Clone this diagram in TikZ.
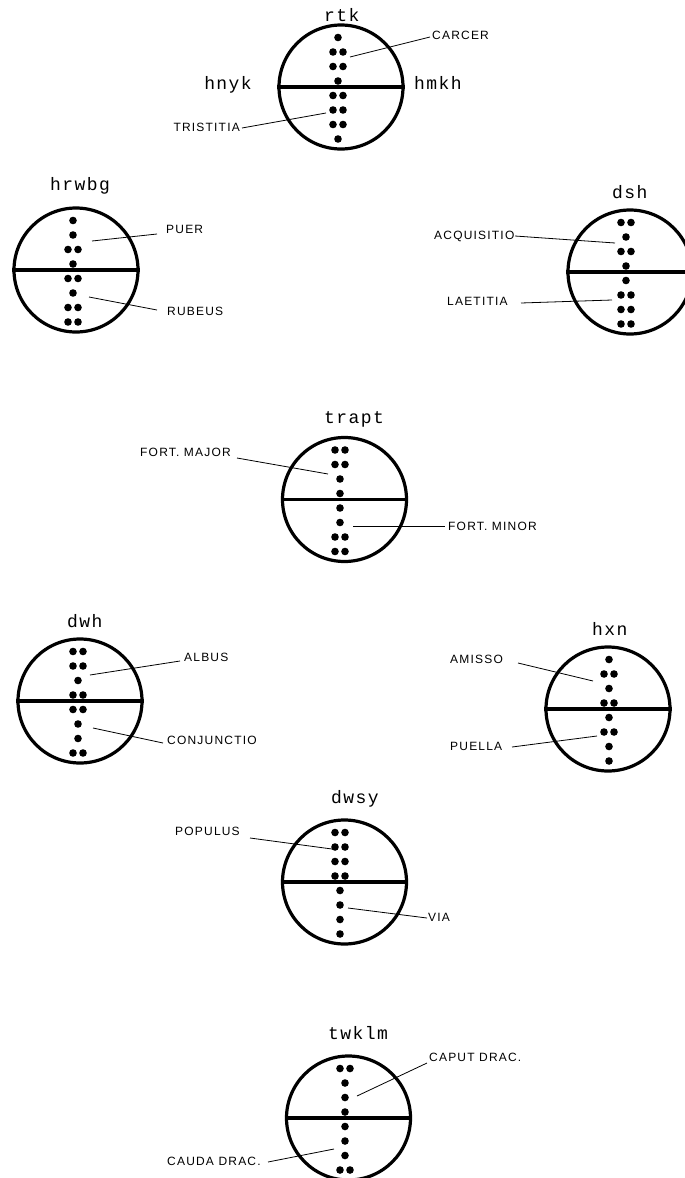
\documentclass[tikz,border=0pt]{standalone}
\usepackage{fontspec}
\newfontfamily\capsf[LetterSpace=10]{Liberation Sans}
\newfontfamily\hebf[LetterSpace=8]{Liberation Mono}
\tikzset{
  geocircle/.style={circle, draw, line width=3.2pt, minimum size=124pt, inner sep=0pt},
  divider/.style={line width=3.2pt},
  lead/.style={line width=0.8pt},
  caplabel/.style={inner sep=0pt, anchor=base west, font=\capsf\fontsize{12}{14}\selectfont},
  heblabel/.style={inner sep=0pt, anchor=base west, font=\hebf\fontsize{18}{20}\selectfont},
}
% one row of a geomantic figure: #1 column x, #2 row y, #3 number of dots
\newcommand\georow[3]{%
  \ifnum#3=1
    \fill (#1,#2) circle (3.8pt);
  \else
    \fill (#1-5,#2) circle (3.8pt);
    \fill (#1+5,#2) circle (3.8pt);
  \fi}
% #1 column x, #2 divider y, #3 upper figure rows, #4 lower figure rows
\newcommand\geofig[4]{%
  \foreach \n [count=\i] in {#3} {%
    \pgfmathsetmacro\yy{#2-49.5+(\i-1)*14.5}%
    \georow{#1}{\yy}{\n}}%
  \foreach \n [count=\i] in {#4} {%
    \pgfmathsetmacro\yy{#2+8.5+(\i-1)*14.5}%
    \georow{#1}{\yy}{\n}}}
\begin{document}
\begin{tikzpicture}[x=1pt,y=-1pt]
\useasboundingbox (0,0) rectangle (685,1178);
\clip (0,0) rectangle (685,1178);

% ---------- circle 1: rtk ----------
\node[geocircle] (c1) at (341,87) {};
\draw[divider] (c1.west) -- (c1.east);
\geofig{338}{87}{1,2,2,1}{2,2,2,1}
\node[heblabel] (rtk) at (324,21.7) {rtk};
\node[heblabel, anchor=base east] (hnyk) at (252,89) {hnyk};
\node[heblabel] (hmkh) at (414,89) {hmkh};
\node[caplabel] (carcer) at (432,39) {CARCER};
\node[caplabel, anchor=base east] (tristitia) at (240,131) {TRISTITIA};
\coordinate (carcer-in) at (350,57);
\coordinate (carcer-out) at (430,37);
\coordinate (tristitia-in) at (326,113);
\coordinate (tristitia-out) at (242,128);
\draw[lead] (carcer-in) -- (carcer-out);
\draw[lead] (tristitia-in) -- (tristitia-out);

% ---------- circle 2: hrwbg ----------
\node[geocircle] (c2) at (76,270) {};
\draw[divider] (c2.west) -- (c2.east);
\geofig{73}{270}{1,1,2,1}{2,1,2,2}
\node[heblabel] (hrwbg) at (50,190) {hrwbg};
\node[caplabel] (puer) at (166,233) {PUER};
\node[caplabel] (rubeus) at (167,315) {RUBEUS};
\coordinate (puer-in) at (92,241);
\coordinate (puer-out) at (157,234);
\coordinate (rubeus-in) at (89,297);
\coordinate (rubeus-out) at (157,310);
\draw[lead] (puer-in) -- (puer-out);
\draw[lead] (rubeus-in) -- (rubeus-out);

% ---------- circle 3: dsh ----------
\node[geocircle] (c3) at (630,272) {};
\draw[divider] (c3.west) -- (c3.east);
\geofig{626}{272}{2,1,2,1}{1,2,2,2}
\node[heblabel] (dsh) at (612,198) {dsh};
\node[caplabel] (acquisitio) at (434,239) {ACQUISITIO};
\node[caplabel] (laetitia) at (447,305) {LAETITIA};
\coordinate (acquisitio-in) at (615,243);
\coordinate (acquisitio-out) at (515,236);
\coordinate (laetitia-in) at (612,300);
\coordinate (laetitia-out) at (521,303);
\draw[lead] (acquisitio-in) -- (acquisitio-out);
\draw[lead] (laetitia-in) -- (laetitia-out);

% ---------- circle 4: trapt ----------
\node[geocircle] (c4) at (344.5,499.5) {};
\draw[divider] (c4.west) -- (c4.east);
\geofig{340}{499.5}{2,2,1,1}{1,1,2,2}
\node[heblabel] (trapt) at (324,423) {trapt};
\node[caplabel] (fmajor) at (140,456) {FORT. MAJOR};
\node[caplabel] (fminor) at (448,530) {FORT. MINOR};
\coordinate (fmajor-in) at (328,474);
\coordinate (fmajor-out) at (237,458);
\coordinate (fminor-in) at (353,526);
\coordinate (fminor-out) at (445,526);
\draw[lead] (fmajor-in) -- (fmajor-out);
\draw[lead] (fminor-in) -- (fminor-out);

% ---------- circle 5: dwh ----------
\node[geocircle] (c5) at (80,701) {};
\draw[divider] (c5.west) -- (c5.east);
\geofig{78}{701}{2,2,1,2}{2,1,1,2}
\node[heblabel] (dwh) at (67,627) {dwh};
\node[caplabel] (albus) at (184,661) {ALBUS};
\node[caplabel] (conjunctio) at (167,744) {CONJUNCTIO};
\coordinate (albus-in) at (90,675);
\coordinate (albus-out) at (180,661);
\coordinate (conjunctio-in) at (93,728);
\coordinate (conjunctio-out) at (163,743);
\draw[lead] (albus-in) -- (albus-out);
\draw[lead] (conjunctio-in) -- (conjunctio-out);

% ---------- circle 6: hxn ----------
\node[geocircle] (c6) at (608,709) {};
\draw[divider] (c6.west) -- (c6.east);
\geofig{609}{709}{1,2,1,2}{1,2,1,1}
\node[heblabel] (hxn) at (592,635) {hxn};
\node[caplabel] (amisso) at (450,663) {AMISSO};
\node[caplabel] (puella) at (450,750) {PUELLA};
\coordinate (amisso-in) at (593,681);
\coordinate (amisso-out) at (518,663);
\coordinate (puella-in) at (597,736);
\coordinate (puella-out) at (512,747);
\draw[lead] (amisso-in) -- (amisso-out);
\draw[lead] (puella-in) -- (puella-out);

% ---------- circle 7: dwsy ----------
\node[geocircle] (c7) at (344.5,882) {};
\draw[divider] (c7.west) -- (c7.east);
\geofig{340}{882}{2,2,2,2}{1,1,1,1}
\node[heblabel] (dwsy) at (331,803) {dwsy};
\node[caplabel] (populus) at (175,835) {POPULUS};
\node[caplabel] (via) at (428,921) {VIA};
\coordinate (populus-in) at (332,849);
\coordinate (populus-out) at (250,838);
\coordinate (via-in) at (348,908);
\coordinate (via-out) at (427,918);
\draw[lead] (populus-in) -- (populus-out);
\draw[lead] (via-in) -- (via-out);

% ---------- circle 8: twklm ----------
\node[geocircle] (c8) at (348.5,1118) {};
\draw[divider] (c8.west) -- (c8.east);
\geofig{345}{1118}{2,1,1,1}{1,1,1,2}
\node[heblabel] (twklm) at (328,1039) {twklm};
\node[caplabel] (caput) at (429,1061) {CAPUT DRAC.};
\node[caplabel] (cauda) at (167,1165) {CAUDA DRAC.};
\coordinate (caput-in) at (357,1096);
\coordinate (caput-out) at (427,1063);
\coordinate (cauda-in) at (334,1149);
\coordinate (cauda-out) at (268,1162);
\draw[lead] (caput-in) -- (caput-out);
\draw[lead] (cauda-in) -- (cauda-out);
\end{tikzpicture}
\end{document}
